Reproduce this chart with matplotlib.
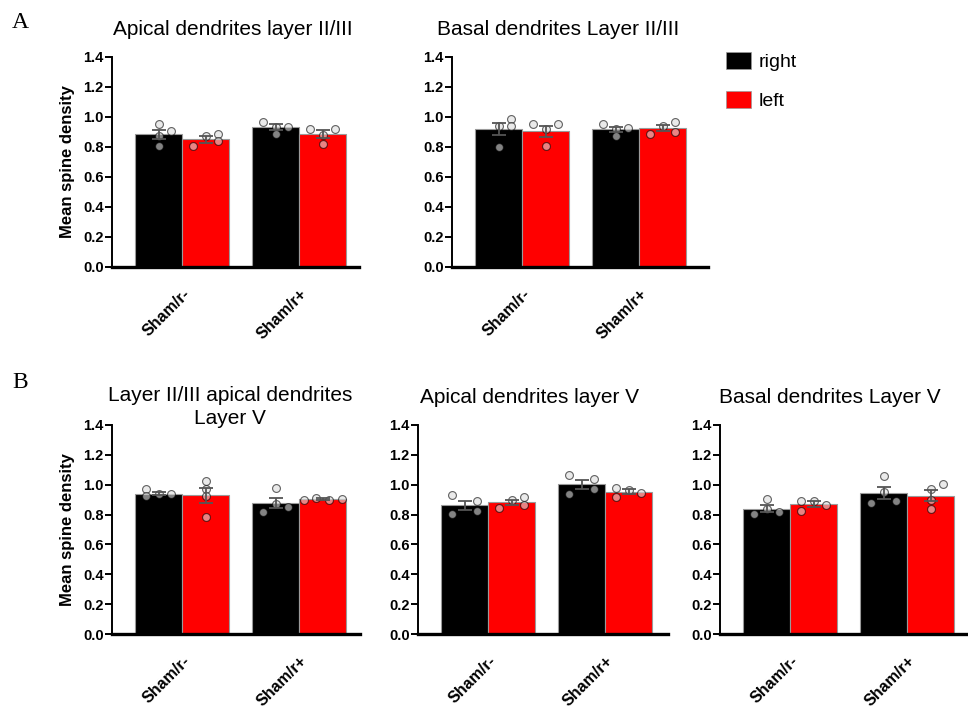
import numpy as np
import matplotlib
matplotlib.use("Agg")
import matplotlib.pyplot as plt
import matplotlib.patches as mpatches

plt.rcParams["font.family"] = ["Liberation Sans", "DejaVu Sans"]

# ── Data ────────────────────────────────────────────────────────────────
GROUPS = ["Sham/r-", "Sham/r+"]
SIDES = ["right", "left"]

# [group][side]  side 0 = right (black), 1 = left (red)
apical23_mean = [[0.885, 0.852], [0.932, 0.886]]
apical23_sem = [[0.030, 0.022], [0.019, 0.025]]
apical23_pts = [[[0.954, 0.907, 0.807, 0.872], [0.807, 0.874, 0.887, 0.840]],
                [[0.965, 0.936, 0.887, 0.936], [0.923, 0.880, 0.820, 0.921]]]
apical23_col = [[[0, 1, 0, 0], [-1, 0, 1, 1]],
                [[-1, 0, 0, 1], [-1, 0, 0, 1]]]

basal23_mean = [[0.920, 0.905], [0.917, 0.927]]
basal23_sem = [[0.040, 0.037], [0.015, 0.017]]
basal23_pts = [[[0.941, 0.990, 0.941, 0.801], [0.951, 0.923, 0.804, 0.951]],
               [[0.951, 0.919, 0.874, 0.928], [0.890, 0.941, 0.966, 0.903]]]
basal23_col = [[[0, 1, 1, 0], [-1, 0, 0, 1]],
               [[-1, 0, 0, 1], [-1, 0, 1, 1]]]

api23_v_mean = [[0.940, 0.928], [0.877, 0.904]]
api23_v_sem = [[0.009, 0.052], [0.036, 0.004]]
api23_v_pts = [[[0.969, 0.924, 0.938, 0.938], [1.027, 0.969, 0.924, 0.786]],
               [[0.980, 0.868, 0.817, 0.851], [0.897, 0.913, 0.897, 0.904]]]
api23_v_col = [[[-1, -1, 0, 1], [0, 0, 0, 0]],
               [[0, 0, -1, 1], [-1.5, -0.5, 0.5, 1.5]]]

apical5_mean = [[0.863, 0.881], [1.004, 0.954]]
apical5_sem = [[0.031, 0.015], [0.030, 0.015]]
apical5_pts = [[[0.933, 0.807, 0.888, 0.825], [0.845, 0.897, 0.920, 0.863]],
               [[1.063, 0.936, 1.040, 0.974], [0.981, 0.918, 0.965, 0.945]]]
apical5_col = [[[-1, -1, 1, 1], [-1, 0, 1, 1]],
               [[-1, -1, 1, 1], [-1, -1, 0, 1]]]

basal5_mean = [[0.838, 0.872], [0.944, 0.926]]
basal5_sem = [[0.024, 0.020], [0.042, 0.036]]
basal5_pts = [[[0.903, 0.804, 0.835, 0.815], [0.892, 0.826, 0.892, 0.865]],
              [[1.059, 0.953, 0.878, 0.894], [0.973, 1.007, 0.840, 0.899]]]
basal5_col = [[[0, -1, 0, 1], [-1, -1, 0, 1]],
              [[0, 0, -1, 1], [0, 1, 0, 0]]]

# ── Style ───────────────────────────────────────────────────────────────
BAR_COLORS = ["#000000", "#FF0000"]
BAR_EDGE = "#9a9a9a"
ERR_COLOR = "#555555"
PT_FACE = "#dcdcdc"
W, H = 968, 708
UNIT_PX = 46.8          # pixel width of one bar
GROUP_POS = [0.0, 2.5]
JITTER = 0.27


def fx(px):
    return px / W


def fy(py):
    return 1 - py / H


def make_axes(fig, left, right, y0, y14):
    ax = fig.add_axes([fx(left), fy(y0), (right - left) / W, (y0 - y14) / H])
    ax.set_xlim(-1.5, -1.5 + (right - left) / UNIT_PX)
    ax.set_ylim(0, 1.4)
    return ax


def draw_panel(ax, mean, sem, pts, col, ylabel=False):
    for g, gx in enumerate(GROUPS):
        for s in range(2):
            x = GROUP_POS[g] + (s - 0.5)
            ax.bar(x, mean[g][s], width=1.0, color=BAR_COLORS[s],
                   edgecolor=BAR_EDGE, linewidth=0.8, zorder=2)
            px = x + np.array(col[g][s]) * JITTER
            ax.scatter(px, pts[g][s], s=32, facecolor=PT_FACE, edgecolor="#000000",
                       linewidth=0.8, alpha=0.6, zorder=3, clip_on=False)
            ax.errorbar(x, mean[g][s], yerr=sem[g][s], fmt="none", ecolor=ERR_COLOR,
                        elinewidth=1.3, capsize=5, capthick=1.3, zorder=4)

    for side in ("top", "right"):
        ax.spines[side].set_visible(False)
    ax.spines["left"].set_linewidth(1.4)
    ax.spines["bottom"].set_linewidth(2.4)
    ax.set_yticks(np.arange(0, 1.41, 0.2))
    ax.set_yticklabels([f"{v:.1f}" for v in np.arange(0, 1.41, 0.2)],
                       fontsize=10.5, fontweight="bold")
    ax.tick_params(axis="y", direction="out", length=5, width=1.4, pad=1)
    ax.set_xticks(GROUP_POS)
    ax.set_xticklabels(GROUPS, rotation=45, ha="right", va="top",
                       rotation_mode="anchor", fontsize=11.5, fontweight="bold")
    ax.tick_params(axis="x", length=0, pad=14)
    if ylabel:
        ax.set_ylabel("Mean spine density", fontsize=12, fontweight="bold", labelpad=6)


def main():
    fig = plt.figure(figsize=(W / 100, H / 100), dpi=100)

    ax_a1 = make_axes(fig, 112, 359, 267, 57)
    ax_a2 = make_axes(fig, 452, 708, 267, 57)
    ax_b1 = make_axes(fig, 112, 360, 634, 425)
    ax_b2 = make_axes(fig, 418, 668, 634, 425)
    ax_b3 = make_axes(fig, 720, 967, 634, 425)

    draw_panel(ax_a1, apical23_mean, apical23_sem, apical23_pts, apical23_col, ylabel=True)
    draw_panel(ax_a2, basal23_mean, basal23_sem, basal23_pts, basal23_col)
    draw_panel(ax_b1, api23_v_mean, api23_v_sem, api23_v_pts, api23_v_col, ylabel=True)
    draw_panel(ax_b2, apical5_mean, apical5_sem, apical5_pts, apical5_col)
    draw_panel(ax_b3, basal5_mean, basal5_sem, basal5_pts, basal5_col)

    # titles
    title_kw = dict(fontsize=15, ha="center", va="baseline")
    fig.text(fx(233), fy(35), "Apical dendrites layer II/III", **title_kw)
    fig.text(fx(558), fy(35), "Basal dendrites Layer II/III", **title_kw)
    fig.text(fx(230), fy(401), "Layer II/III apical dendrites", **title_kw)
    fig.text(fx(230), fy(424), "Layer V", **title_kw)
    fig.text(fx(530), fy(403), "Apical dendrites layer V", **title_kw)
    fig.text(fx(830), fy(403), "Basal dendrites Layer V", **title_kw)

    # panel letters
    fig.text(fx(12), fy(28), "A", fontsize=17, family="Liberation Serif", va="baseline")
    fig.text(fx(12), fy(388), "B", fontsize=17, family="Liberation Serif", va="baseline")

    # legend
    handles = [mpatches.Patch(facecolor=c, edgecolor="#9a9a9a", linewidth=0.5, label=l)
               for c, l in zip(BAR_COLORS, SIDES)]
    fig.legend(handles=handles, loc="upper left", bbox_to_anchor=(fx(718), fy(44)),
               frameon=False, fontsize=14, handlelength=1.3, handleheight=1.0,
               handletextpad=0.4, labelspacing=1.0, borderaxespad=0)

    fig.savefig("out.png", dpi=100, facecolor="white")
    plt.close(fig)


if __name__ == "__main__":
    main()
